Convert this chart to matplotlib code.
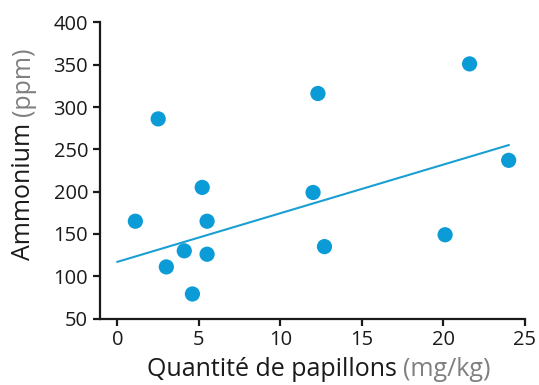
import matplotlib
matplotlib.use('Agg')
import matplotlib.pyplot as plt

# Données
papillons = [1.1, 2.5, 3.0, 4.1, 4.6, 5.2, 5.5, 5.5, 12.3, 12.0, 12.7, 20.1, 21.6, 24.0]
ammonium = [165, 286, 111, 130, 79, 205, 165, 126, 316, 199, 135, 149, 351, 237]

# Droite de tendance (extrémités lues)
tendance_x = [0, 24]
tendance_y = [117, 255]

x_ticks = [0, 5, 10, 15, 20, 25]
y_ticks = [50, 100, 150, 200, 250, 300, 350, 400]

plt.rcParams['font.family'] = ['Open Sans', 'DejaVu Sans']

bleu = '#0b9bd7'
gris = '#808080'
noir = '#1a1a1a'

fig = plt.figure(figsize=(5.39, 3.85), dpi=100)
ax = fig.add_axes([0.1855, 0.1727, 0.7885, 0.769])

ax.plot(tendance_x, tendance_y, color='#1a9fd2', linewidth=1.5, zorder=2)
ax.scatter(papillons, ammonium, s=120, color=bleu, edgecolors='none', zorder=3)

ax.set_xlim(-1.07, 25)
ax.set_ylim(50, 400)
ax.set_xticks(x_ticks)
ax.set_yticks(y_ticks)

for side in ['top', 'right']:
    ax.spines[side].set_visible(False)
for side in ['left', 'bottom']:
    ax.spines[side].set_linewidth(1.6)
    ax.spines[side].set_color(noir)

ax.tick_params(axis='both', direction='out', length=5, width=1.6,
               colors=noir, labelsize=14.5, labelcolor=noir, pad=3.5)

# Étiquette de l'axe x : deux couleurs
t1 = fig.text(147 / 539, 1 - 376 / 385, 'Quantité de papillons ', fontsize=18,
              color=noir, ha='left', va='baseline')
ax.annotate('(mg/kg)', xy=(1, 0), xycoords=t1, xytext=(0, 0), textcoords='offset points',
            fontsize=18, color=gris, ha='left', va='bottom')

# Étiquette de l'axe y : deux couleurs
t2 = fig.text(11 / 539, 1 - 260 / 385, 'Ammonium ', fontsize=18, rotation=90,
              color=noir, ha='left', va='bottom')
ax.annotate('(ppm)', xy=(0, 1), xycoords=t2, fontsize=18, rotation=90,
            color=gris, ha='left', va='bottom')

fig.savefig('out.png', dpi=100, facecolor='white')
